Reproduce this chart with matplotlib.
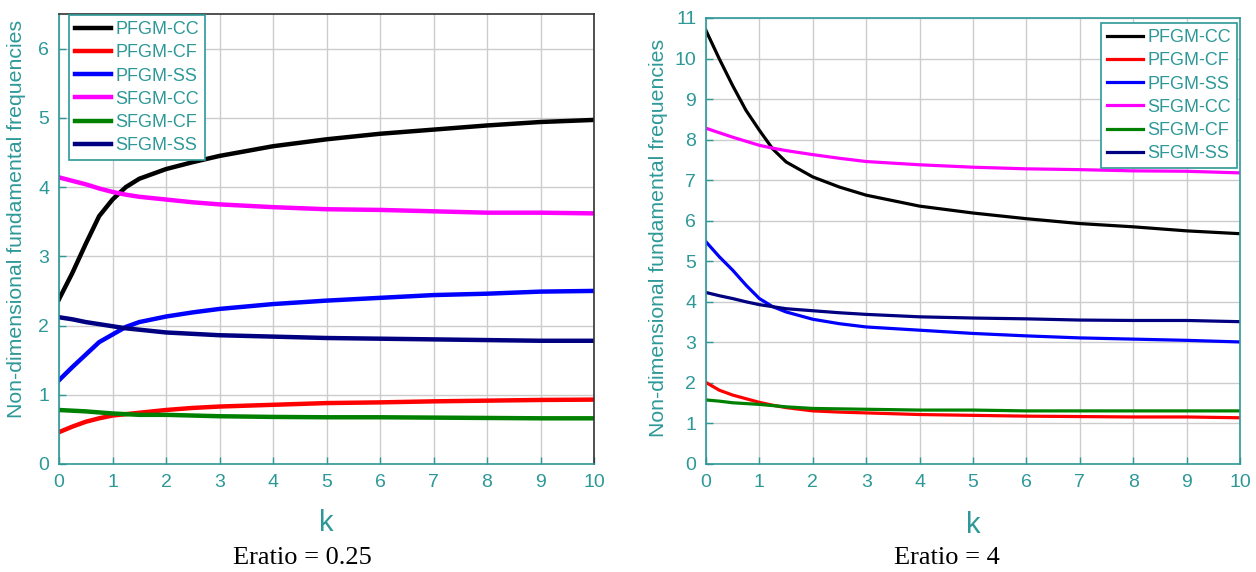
import matplotlib
matplotlib.use('Agg')
import matplotlib.pyplot as plt

# k values
k = [0, 0.25, 0.5, 0.75, 1, 1.25, 1.5, 2, 2.5, 3, 4, 5, 6, 7, 8, 9, 10]

labels = ['PFGM-CC', 'PFGM-CF', 'PFGM-SS', 'SFGM-CC', 'SFGM-CF', 'SFGM-SS']
colors = ['#000000', '#ff0000', '#0000ff', '#ff00ff', '#008000', '#000080']

# Eratio = 0.25
low_pfgm_cc = [2.38, 2.76, 3.18, 3.58, 3.82, 4.00, 4.12, 4.26, 4.36, 4.45, 4.59, 4.69, 4.77, 4.83, 4.89, 4.94, 4.97]
low_pfgm_cf = [0.46, 0.54, 0.61, 0.66, 0.70, 0.72, 0.74, 0.78, 0.81, 0.83, 0.855, 0.88, 0.89, 0.905, 0.915, 0.925, 0.93]
low_pfgm_ss = [1.21, 1.40, 1.58, 1.76, 1.87, 1.98, 2.05, 2.13, 2.19, 2.24, 2.31, 2.36, 2.40, 2.44, 2.46, 2.49, 2.50]
low_sfgm_cc = [4.14, 4.09, 4.04, 3.98, 3.93, 3.89, 3.86, 3.82, 3.78, 3.75, 3.71, 3.68, 3.67, 3.65, 3.63, 3.63, 3.62]
low_sfgm_cf = [0.78, 0.77, 0.76, 0.745, 0.73, 0.72, 0.71, 0.71, 0.70, 0.69, 0.68, 0.675, 0.675, 0.67, 0.665, 0.66, 0.66]
low_sfgm_ss = [2.12, 2.09, 2.05, 2.02, 1.99, 1.96, 1.94, 1.90, 1.88, 1.86, 1.84, 1.82, 1.81, 1.80, 1.79, 1.78, 1.78]

# Eratio = 4
high_pfgm_cc = [10.69, 9.99, 9.33, 8.72, 8.23, 7.77, 7.45, 7.08, 6.83, 6.63, 6.36, 6.19, 6.05, 5.93, 5.85, 5.75, 5.68]
high_pfgm_cf = [2.01, 1.82, 1.70, 1.61, 1.52, 1.45, 1.39, 1.31, 1.28, 1.26, 1.22, 1.20, 1.18, 1.17, 1.16, 1.16, 1.14]
high_pfgm_ss = [5.48, 5.11, 4.78, 4.41, 4.08, 3.88, 3.75, 3.57, 3.46, 3.38, 3.30, 3.22, 3.16, 3.11, 3.08, 3.05, 3.01]
high_sfgm_cc = [8.28, 8.17, 8.06, 7.96, 7.86, 7.79, 7.73, 7.63, 7.54, 7.46, 7.38, 7.32, 7.28, 7.26, 7.23, 7.22, 7.18]
high_sfgm_cf = [1.58, 1.55, 1.51, 1.49, 1.47, 1.44, 1.41, 1.37, 1.36, 1.35, 1.33, 1.33, 1.31, 1.31, 1.31, 1.31, 1.31]
high_sfgm_ss = [4.23, 4.15, 4.08, 4.00, 3.93, 3.88, 3.83, 3.78, 3.73, 3.69, 3.63, 3.60, 3.58, 3.55, 3.54, 3.54, 3.51]

TEAL = '#2e9898'
plt.rcParams['font.family'] = ['Liberation Sans', 'DejaVu Sans']

fig = plt.figure(figsize=(12.56, 5.72), dpi=100)
ax1 = fig.add_axes([59 / 1256, 1 - 464 / 572, 535 / 1256, 450 / 572])
ax2 = fig.add_axes([706 / 1256, 1 - 464 / 572, 534 / 1256, 446 / 572])


def style_axes(ax, ymax, frame_color):
    ax.set_xlim(0, 10)
    ax.set_ylim(0, ymax)
    ax.set_xticks(range(0, 11))
    ax.set_yticks(range(0, int(ymax) + 1))
    ax.grid(True, color='#cccccc', linewidth=1)
    ax.set_axisbelow(True)
    ax.tick_params(direction='in', length=5, width=1, color=TEAL,
                   labelcolor=TEAL, labelsize=14, pad=7)
    ax.spines['left'].set_color(TEAL)
    ax.spines['bottom'].set_color(TEAL)
    ax.spines['top'].set_color(frame_color)
    ax.spines['right'].set_color(frame_color)
    for s in ax.spines.values():
        s.set_linewidth(1.2)
    ax.set_ylabel('Non-dimensional fundamental frequencies', color=TEAL, fontsize=15.3)
    ax.set_xlabel('k', color=TEAL, fontsize=21)


low = [low_pfgm_cc, low_pfgm_cf, low_pfgm_ss, low_sfgm_cc, low_sfgm_cf, low_sfgm_ss]
high = [high_pfgm_cc, high_pfgm_cf, high_pfgm_ss, high_sfgm_cc, high_sfgm_cf, high_sfgm_ss]

for vals, lab, c in zip(low, labels, colors):
    ax1.plot(k, vals, color=c, linewidth=3.2, label=lab)
for vals, lab, c in zip(high, labels, colors):
    ax2.plot(k, vals, color=c, linewidth=2.3, label=lab)

style_axes(ax1, 6.5, '#333333')
style_axes(ax2, 11, TEAL)

ax1.yaxis.set_label_coords(-0.062, 0.545)
ax2.yaxis.set_label_coords(-0.071, 0.507)
ax1.xaxis.set_label_coords(0.5, -0.1)
ax2.xaxis.set_label_coords(0.5, -0.105)

leg_kw = dict(fontsize=13, frameon=True, fancybox=False, handlelength=2.0,
              handletextpad=0.2, labelspacing=0.34, borderpad=0.35,
              borderaxespad=0.0, labelcolor=TEAL)
leg1 = ax1.legend(loc='upper left', bbox_to_anchor=(10 / 535, 1 - 1 / 450), **leg_kw)
leg2 = ax2.legend(loc='upper right', bbox_to_anchor=(1 - 3 / 534, 1 - 5 / 446), **leg_kw)
for leg in (leg1, leg2):
    fr = leg.get_frame()
    fr.set_edgecolor(TEAL)
    fr.set_linewidth(1.2)
    fr.set_alpha(1)

fig.text(302 / 1256, 1 - 558 / 572, 'Eratio = 0.25', ha='center', va='center',
         fontsize=19, family='Liberation Serif')
fig.text(947 / 1256, 1 - 558 / 572, 'Eratio = 4', ha='center', va='center',
         fontsize=19, family='Liberation Serif')

fig.savefig('out.png', dpi=100)
